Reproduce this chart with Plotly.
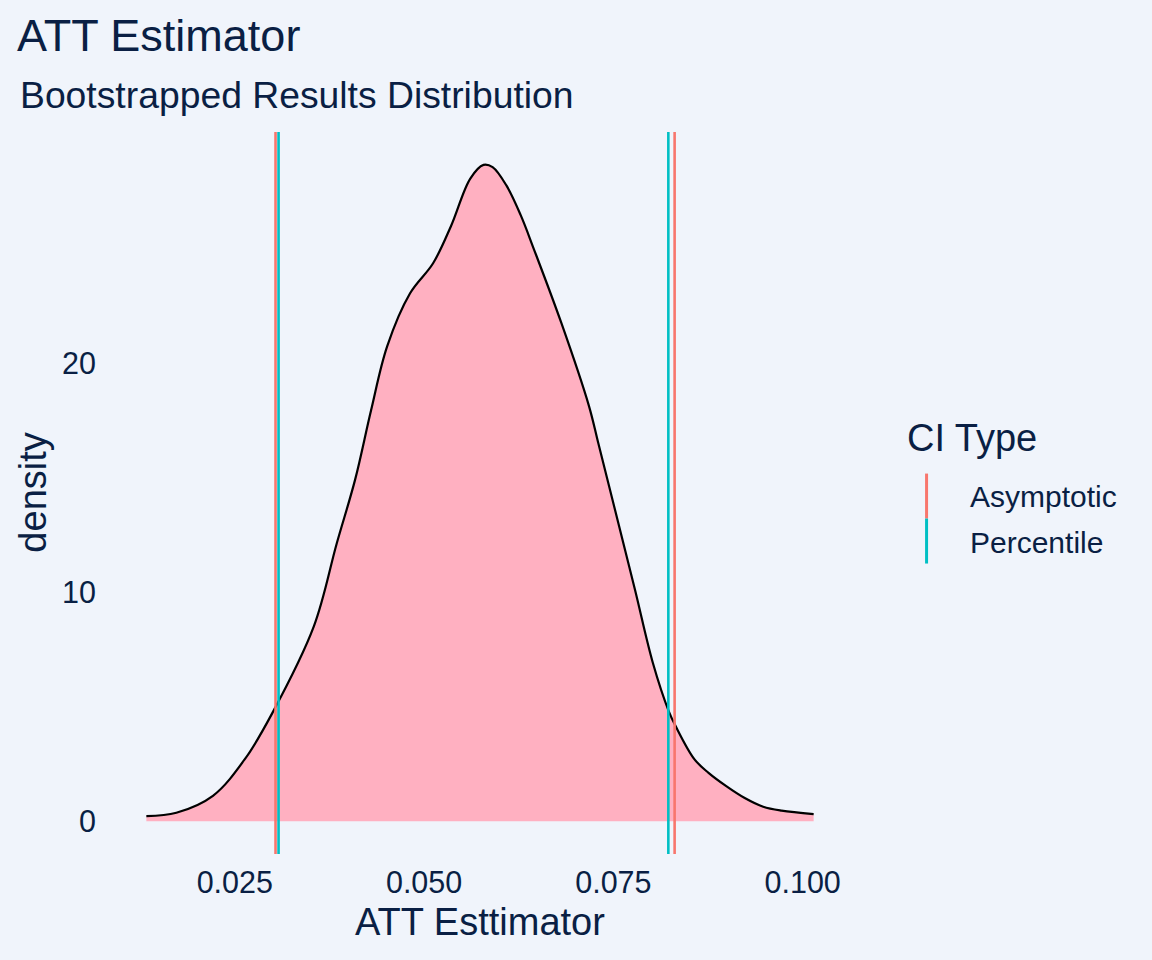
import plotly.graph_objects as go

# density of the bootstrapped ATT estimates
att_x = [0.01332, 0.01728, 0.02211, 0.02635, 0.02995, 0.03545, 0.03847, 0.04090,
         0.04300, 0.04512, 0.04815, 0.05119, 0.05356, 0.05610, 0.05785, 0.05905,
         0.06087, 0.06276, 0.06451, 0.06814, 0.07177, 0.07298, 0.07480, 0.07784,
         0.08021, 0.08232, 0.08327, 0.08569, 0.08757, 0.08991, 0.09235, 0.09479,
         0.09722, 0.10145]
density = [0.22, 0.37, 1.11, 2.72, 4.72, 8.52, 12.14, 14.93,
           17.95, 20.74, 23.06, 24.37, 26.0, 28.07, 28.67, 28.57,
           27.77, 26.47, 24.98, 21.75, 18.14, 16.55, 14.15, 10.13,
           6.92, 4.80, 4.12, 2.71, 2.11, 1.53, 1.01, 0.63,
           0.46, 0.31]

# confidence interval bounds
ci_types = ["Asymptotic", "Percentile"]
ci_lower = [0.03038, 0.03078]
ci_upper = [0.08309, 0.08226]
ci_colors = ["#F8766D", "#00BFC4"]

x_ticks = [0.025, 0.050, 0.075, 0.100]
y_ticks = [0, 10, 20]

BG = "#F0F4FB"
INK = "#0A1F44"
FONT = "Liberation Sans, Arial, Helvetica, sans-serif"

fig = go.Figure()

fig.add_trace(go.Scatter(
    x=att_x, y=density,
    mode="lines",
    fill="tozeroy",
    fillcolor="#FFB0C1",
    line=dict(color="black", width=2.2, shape="spline", smoothing=1.0),
    showlegend=False,
    hoverinfo="skip",
))

for name, lo, hi, col in zip(ci_types, ci_lower, ci_upper, ci_colors):
    for v in (lo, hi):
        fig.add_vline(x=v, line=dict(color=col, width=2.6))

# ggplot-like 5% expansion
xr = max(att_x) - min(att_x)
yr = max(density) - 0
x_range = [min(att_x) - 0.05 * xr, max(att_x) + 0.05 * xr]
y_range = [-0.05 * yr, max(density) + 0.05 * yr]

fig.update_layout(
    width=1152, height=960,
    margin=dict(l=112.5, r=304.6, t=131.7, b=106.2),
    paper_bgcolor=BG, plot_bgcolor=BG,
    font=dict(family=FONT, color=INK, size=30.5),
    showlegend=False,
    title=dict(text="ATT Estimator", x=17 / 1152, xanchor="left", xref="container",
               y=1 - 35.4 / 960, yanchor="middle", yref="container",
               font=dict(size=45, color=INK)),
    xaxis=dict(range=x_range, tickvals=x_ticks, tickformat=".3f",
               showgrid=False, zeroline=False, showline=False,
               ticks="", ticklabelstandoff=7),
    yaxis=dict(range=y_range, tickvals=y_ticks,
               showgrid=False, zeroline=False, showline=False,
               ticks="", ticklabelstandoff=16),
)

annos = [
    dict(text="Bootstrapped Results Distribution", x=-0.1300, y=1.0508,
         xanchor="left", yanchor="middle", font=dict(size=37.3)),
    dict(text="ATT Esttimator", x=0.5, y=-0.0936,
         xanchor="center", yanchor="middle", font=dict(size=38)),
    dict(text="density", x=-0.1095, y=0.5, textangle=-90,
         xanchor="center", yanchor="middle", font=dict(size=38)),
    dict(text="CI Type", x=1.0784, y=0.5758,
         xanchor="left", yanchor="middle", font=dict(size=38)),
]
# legend entries, one per CI type
key_top = 0.5269
key_h = 0.0623
label_y = [0.4951, 0.4318]
for i, (name, col) in enumerate(zip(ci_types, ci_colors)):
    annos.append(dict(text=name, x=1.1655, y=label_y[i],
                      xanchor="left", yanchor="middle", font=dict(size=30)))
    fig.add_shape(type="line", xref="paper", yref="paper",
                  x0=1.1084, x1=1.1084,
                  y0=key_top - i * key_h, y1=key_top - (i + 1) * key_h,
                  line=dict(color=col, width=3))

for a in annos:
    a.update(xref="paper", yref="paper", showarrow=False)
    fig.add_annotation(**a)

fig.write_html("out.html", config={"displayModeBar": False},
               post_script="document.body.style.margin='0';")
